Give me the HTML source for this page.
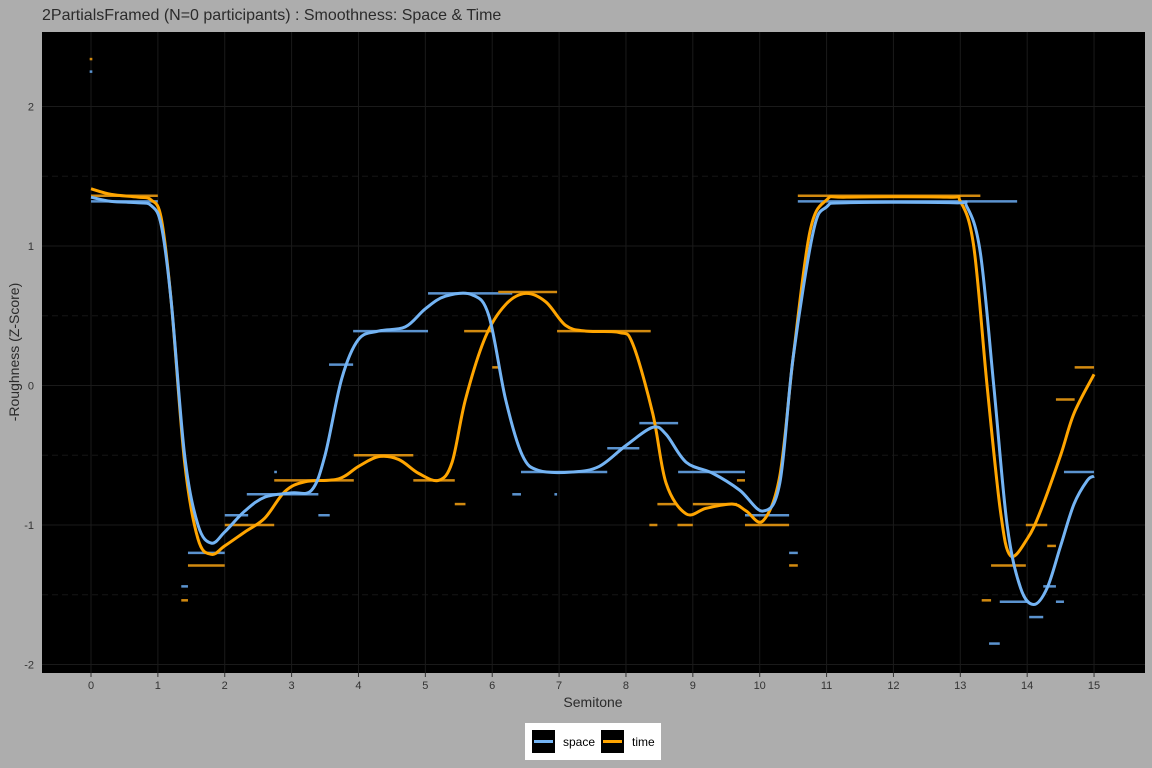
<!DOCTYPE html>
<html><head><meta charset="utf-8"><style>
html,body{margin:0;padding:0;background:#adadad;}
svg{display:block;font-family:"Liberation Sans",sans-serif;}
</style></head><body>
<svg id="c" width="1152" height="768" xmlns="http://www.w3.org/2000/svg">
<rect x="0" y="0" width="1152" height="768" fill="#adadad"/>
<text x="42" y="20" font-size="16" fill="#2b2b2b">2PartialsFramed (N=0 participants) : Smoothness: Space &amp; Time</text>
<rect x="42" y="32" width="1103" height="641" fill="#000"/>
<g id="grid"></g>
<g id="segs"></g>
<g id="curves"></g>
<g id="axes"></g>
<text x="593" y="707" font-size="14" fill="#2b2b2b" text-anchor="middle">Semitone</text>
<text transform="translate(19,352) rotate(-90)" font-size="14" fill="#2b2b2b" text-anchor="middle">-Roughness (Z-Score)</text>
<g>
<rect x="525" y="723" width="136" height="37" fill="#fff"/>
<g>
<rect x="532" y="730" width="23" height="23" fill="#000"/>
<line x1="534" y1="741.5" x2="553" y2="741.5" stroke="#74b4f4" stroke-width="3"/>
<text x="563" y="746" font-size="12" fill="#000">space</text></g>
<g>
<rect x="601" y="730" width="23" height="23" fill="#000"/>
<line x1="603" y1="741.5" x2="622" y2="741.5" stroke="#ffa500" stroke-width="3"/>
<text x="632" y="746" font-size="12" fill="#000">time</text></g>
</g>
</svg>
<script>
const xTicks=[0,1,2,3,4,5,6,7,8,9,10,11,12,13,14,15];
const yTicks=[-2,-1,0,1,2];
const yMinor=[-1.5,-0.5,0.5,1.5];
const spaceSegs=[[0,1,1.32],[1.35,1.45,-1.44],[1.45,2,-1.2],[2,2.35,-0.93],[2.33,3.4,-0.78],[2.74,2.78,-0.62],[3.4,3.57,-0.93],[3.56,3.92,0.15],[3.92,5.04,0.39],[5.04,6.3,0.66],[6.3,6.43,-0.78],[6.93,6.97,-0.78],[6.43,7.72,-0.62],[7.72,8.2,-0.45],[8.2,8.78,-0.27],[8.78,9.78,-0.62],[9.78,10.44,-0.93],[10.44,10.57,-1.2],[10.57,13.85,1.32],[13.43,13.59,-1.85],[13.59,14.03,-1.55],[14.03,14.24,-1.66],[14.24,14.43,-1.44],[14.43,14.55,-1.55],[14.55,15,-0.62],[-0.02,0.02,2.25]];
const timeSegs=[[0,1,1.36],[1.35,1.45,-1.54],[1.45,2,-1.29],[2,2.74,-1],[2.74,3.93,-0.68],[3.93,4.82,-0.5],[4.82,5.44,-0.68],[5.44,5.6,-0.85],[5.58,6.01,0.39],[6.0,6.1,0.13],[6.09,6.97,0.67],[6.97,8.37,0.39],[8.35,8.47,-1],[8.47,8.77,-0.85],[8.77,9,-1],[9,9.66,-0.85],[9.66,9.78,-0.68],[9.78,10.44,-1],[10.44,10.57,-1.29],[10.57,13.3,1.36],[13.32,13.46,-1.54],[13.46,13.98,-1.29],[13.98,14.3,-1],[14.3,14.43,-1.15],[14.43,14.71,-0.1],[14.71,15,0.13],[-0.02,0.02,2.34]];
const spaceX=[0,0.3,0.7,0.9,1.05,1.2,1.4,1.6,1.8,2.0,2.3,2.6,3.0,3.3,3.5,3.75,4.0,4.3,4.7,5.0,5.3,5.7,5.95,6.2,6.45,6.7,7.2,7.6,8.0,8.4,8.6,8.9,9.3,9.7,10.05,10.3,10.5,10.8,11.0,11.3,12.9,13.1,13.3,13.5,13.7,13.9,14.1,14.3,14.5,14.7,14.9,15];
const spaceY=[1.35,1.32,1.31,1.29,1.15,0.6,-0.5,-1.0,-1.13,-1.05,-0.9,-0.8,-0.77,-0.75,-0.5,0.05,0.33,0.39,0.42,0.55,0.64,0.65,0.5,-0.1,-0.5,-0.61,-0.62,-0.58,-0.43,-0.3,-0.35,-0.55,-0.63,-0.75,-0.9,-0.7,0.2,1.1,1.28,1.31,1.31,1.28,0.95,0.0,-1.0,-1.45,-1.57,-1.45,-1.15,-0.85,-0.68,-0.65];
const timeX=[0,0.3,0.7,0.9,1.05,1.2,1.4,1.6,1.8,2.0,2.3,2.6,2.9,3.2,3.7,4.0,4.3,4.6,4.9,5.2,5.4,5.6,5.9,6.2,6.5,6.8,7.1,7.4,7.9,8.1,8.4,8.6,8.9,9.2,9.6,9.8,10.05,10.3,10.5,10.75,11.0,11.3,12.8,13.0,13.2,13.4,13.6,13.75,14.0,14.2,14.5,14.7,15];
const timeY=[1.41,1.37,1.35,1.33,1.2,0.6,-0.55,-1.1,-1.21,-1.15,-1.05,-0.95,-0.76,-0.69,-0.67,-0.58,-0.51,-0.53,-0.63,-0.68,-0.55,-0.1,0.35,0.58,0.66,0.6,0.43,0.39,0.38,0.3,-0.2,-0.7,-0.92,-0.88,-0.85,-0.9,-0.97,-0.65,0.2,1.1,1.33,1.35,1.35,1.32,1.0,0.0,-0.9,-1.22,-1.1,-0.9,-0.5,-0.2,0.08];
const NS="http://www.w3.org/2000/svg";
const xs=v=>91+v*66.87, ys=v=>385.5-v*139.5;
function mk(tag,attrs,parent){const e=document.createElementNS(NS,tag);for(const k in attrs)e.setAttribute(k,attrs[k]);parent.appendChild(e);return e;}
const grid=document.getElementById('grid'),axes=document.getElementById('axes'),segs=document.getElementById('segs'),curves=document.getElementById('curves');
yMinor.forEach(v=>{const l=mk('line',{x1:42,x2:1145,y1:ys(v),y2:ys(v),stroke:'#161616','stroke-width':1,'stroke-dasharray':'6,4'},grid);

});
yTicks.forEach(v=>{const l=mk('line',{x1:42,x2:1145,y1:ys(v),y2:ys(v),stroke:'#1a1a1a','stroke-width':1},grid);


const t=mk('text',{x:34,y:ys(v)+4,'font-size':11,fill:'#333','text-anchor':'end'},axes);t.textContent=v;

});
xTicks.forEach(v=>{const l=mk('line',{x1:xs(v),x2:xs(v),y1:32,y2:673,stroke:'#1a1a1a','stroke-width':1},grid);


const tk=mk('line',{x1:xs(v),x2:xs(v),y1:673,y2:677,stroke:'#333','stroke-width':1},axes);


const t=mk('text',{x:xs(v),y:689,'font-size':11,fill:'#333','text-anchor':'middle'},axes);t.textContent=v;

});
function drawSegs(arr,col,name){arr.forEach(s=>{const l=mk('line',{x1:xs(s[0]),x2:xs(s[1]),y1:ys(s[2]),y2:ys(s[2]),stroke:col,'stroke-width':2.5},segs);

});}
drawSegs(spaceSegs,'#5b93cf','space-step-segment');
drawSegs(timeSegs,'#d28a10','time-step-segment');
function path(X,Y){const p=X.map((x,i)=>[xs(x),ys(Y[i])]);let d='M'+p[0][0]+','+p[0][1];
for(let i=0;i<p.length-1;i++){const p0=p[i-1]||p[i],p1=p[i],p2=p[i+1],p3=p[i+2]||p2;
const c1=[p1[0]+(p2[0]-p0[0])/6,p1[1]+(p2[1]-p0[1])/6],c2=[p2[0]-(p3[0]-p1[0])/6,p2[1]-(p3[1]-p1[1])/6];
d+=' C'+c1[0]+','+c1[1]+' '+c2[0]+','+c2[1]+' '+p2[0]+','+p2[1];}return d;}
const pt=mk('path',{d:path(timeX,timeY),fill:'none',stroke:'#ffa500','stroke-width':3},curves);


const ps=mk('path',{d:path(spaceX,spaceY),fill:'none',stroke:'#74b4f4','stroke-width':3},curves);


</script>
</body></html>
